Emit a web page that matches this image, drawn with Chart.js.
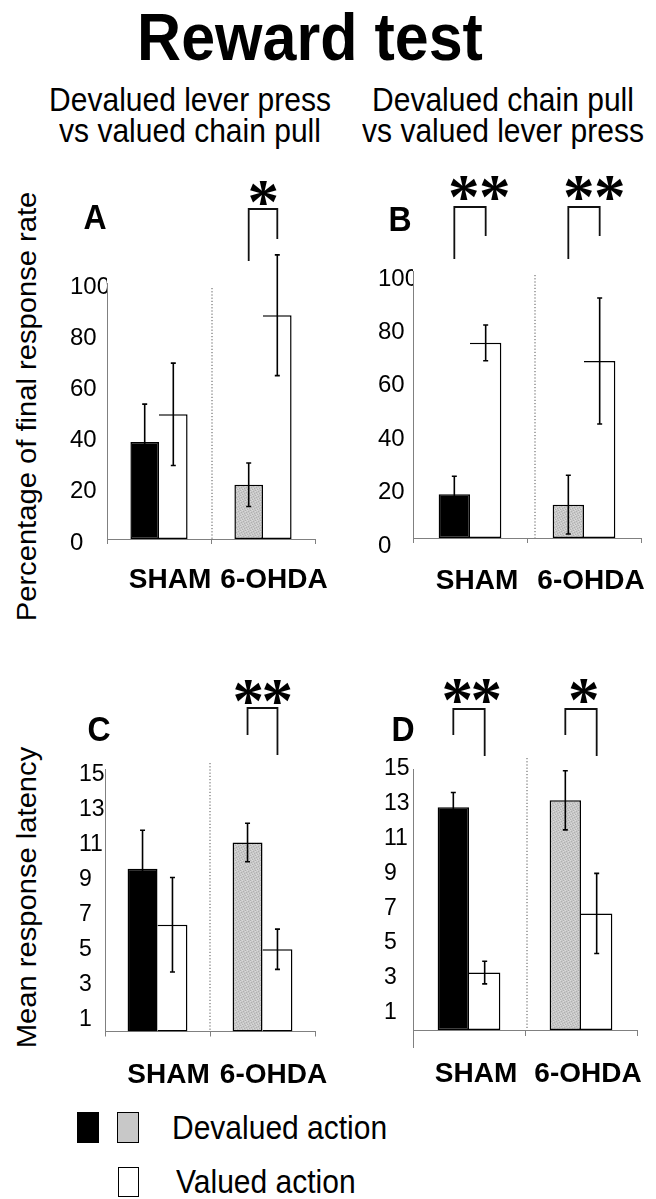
<!DOCTYPE html>
<html>
<head>
<meta charset="utf-8">
<script src="https://cdn.jsdelivr.net/npm/chart.js@4.4.0/dist/chart.umd.min.js"></script>
<style>
html,body{margin:0;padding:0;background:#fff;}
body{width:656px;height:1199px;position:relative;overflow:hidden;font-family:"Liberation Sans",Arial,Helvetica,sans-serif;}
.t{position:absolute;white-space:nowrap;color:#000;line-height:1;}
canvas{position:absolute;}
.box{position:absolute;box-sizing:border-box;}
</style>
</head>
<body>
<canvas id="cA" width="275" height="450" style="left:60px;top:170px"></canvas>
<canvas id="cB" width="288" height="450" style="left:368px;top:170px"></canvas>
<canvas id="cC" width="275" height="440" style="left:60px;top:660px"></canvas>
<canvas id="cD" width="288" height="440" style="left:368px;top:660px"></canvas>
<div class="box" style="left:77px;top:1112px;width:22px;height:31px;background:#000"></div>
<div class="box" id="lgGray" style="left:117px;top:1112px;width:22px;height:31px;background:#c8c8c8;border:1.5px solid #000"></div>
<div class="box" style="left:118px;top:1167px;width:21px;height:30px;background:#fff;border:1.5px solid #000"></div>
<script>
// ---------------- data ----------------
const groups = ['SHAM', '6-OHDA'];
const seriesNames = ['Devalued action', 'Valued action'];
const pctTicks = [0, 20, 40, 60, 80, 100];
const latencyTicks = [1, 3, 5, 7, 9, 11, 13, 15];

// A: devalued lever press vs valued chain pull (% of final response rate)
const rateA_devalued = [37.9, 21.2];
const rateA_devaluedErr = [14.8, 8.5];
const rateA_valued = [48.7, 87.4];
const rateA_valuedErr = [20.0, 23.6];
const sigA = ['', '*'];

// B: devalued chain pull vs valued lever press (% of final response rate)
const rateB_devalued = [16.4, 12.5];
const rateB_devaluedErr = [6.7, 11.0];
const rateB_valued = [73.1, 66.3];
const rateB_valuedErr = [6.7, 23.6];
const sigB = ['**', '**'];

// C: mean response latency
const latC_devalued = [9.3, 10.8];
const latC_devaluedErr = [2.2, 1.1];
const latC_valued = [6.1, 4.7];
const latC_valuedErr = [2.7, 1.15];
const sigC = ['', '**'];

// D: mean response latency
const latD_devalued = [12.8, 13.2];
const latD_devaluedErr = [0.85, 1.7];
const latD_valued = [3.3, 6.7];
const latD_valuedErr = [0.65, 2.3];
const sigD = ['**', '*'];

// ---------------- styling ----------------
const FONT = '"Liberation Sans", Arial, Helvetica, sans-serif';
const STARFONT = '"Liberation Serif", "Times New Roman", serif';
const AXIS = '#808080';

function makeGray(ctx) {
  const c = document.createElement('canvas'); c.width = 5; c.height = 5;
  const g = c.getContext('2d');
  g.fillStyle = '#c8c8c8'; g.fillRect(0, 0, 5, 5);
  g.fillStyle = '#b0b0b0'; [[0,0],[3,1],[1,2],[4,3],[2,4]].forEach(([x,y]) => g.fillRect(x, y, 1, 1));
  g.fillStyle = '#dadada'; [[2,0],[0,1],[3,3],[1,4]].forEach(([x,y]) => g.fillRect(x, y, 1, 1));
  return ctx.createPattern(c, 'repeat');
}

function drawStar(ctx, cx, cy, h) {
  ctx.font = 'bold 100px ' + STARFONT;
  let m = ctx.measureText('*');
  const gh = m.actualBoundingBoxAscent + m.actualBoundingBoxDescent;
  const size = 100 * h / gh;
  ctx.font = 'bold ' + size + 'px ' + STARFONT;
  m = ctx.measureText('*');
  ctx.textAlign = 'left'; ctx.textBaseline = 'alphabetic';
  const x = cx - (m.actualBoundingBoxRight - m.actualBoundingBoxLeft) / 2;
  const y = cy - (m.actualBoundingBoxDescent - m.actualBoundingBoxAscent) / 2;
  ctx.fillStyle = '#000';
  ctx.fillText('*', x, y);
}

function decoPlugin(p) {
  return {
    id: 'deco',
    afterDatasetsDraw(chart) {
      const ctx = chart.ctx, xs = chart.scales.x, ys = chart.scales.y, area = chart.chartArea;
      ctx.save();
      // dotted separator between groups
      const bx = (xs.getPixelForValue(0) + xs.getPixelForValue(1)) / 2 + p.sepDx;
      ctx.strokeStyle = '#555'; ctx.lineWidth = 1; ctx.setLineDash([1.2, 2]);
      ctx.beginPath(); ctx.moveTo(bx, area.top + p.sepTop); ctx.lineTo(bx, ys.getPixelForValue(0)); ctx.stroke();
      ctx.setLineDash([]);
      // error bars
      ctx.strokeStyle = '#000'; ctx.lineWidth = 1.6;
      [[p.dev, p.devErr], [p.val, p.valErr]].forEach(([vals, errs], d) => {
        chart.getDatasetMeta(d).data.forEach((bar, i) => {
          const x = bar.x;
          const y1 = ys.getPixelForValue(vals[i] + errs[i]);
          const y2 = ys.getPixelForValue(vals[i] - errs[i]);
          ctx.beginPath();
          ctx.moveTo(x, y1); ctx.lineTo(x, y2);
          ctx.moveTo(x - 2.5, y1); ctx.lineTo(x + 2.5, y1);
          ctx.moveTo(x - 2.5, y2); ctx.lineTo(x + 2.5, y2);
          ctx.stroke();
        });
      });
      // significance brackets
      ctx.lineWidth = 1.8; ctx.strokeStyle = '#111';
      p.sig.forEach((s, i) => {
        if (!s) return;
        const xl = chart.getDatasetMeta(0).data[i].x;
        const xr = chart.getDatasetMeta(1).data[i].x;
        const yt = area.top + p.br[0];
        ctx.beginPath();
        ctx.moveTo(xl, area.top + p.br[1]); ctx.lineTo(xl, yt); ctx.lineTo(xr, yt); ctx.lineTo(xr, area.top + p.br[2]);
        ctx.stroke();
        const n = s.length, cx = (xl + xr) / 2 + p.starDx[i];
        for (let k = 0; k < n; k++) drawStar(ctx, cx + (k - (n - 1) / 2) * p.starGap, area.top + p.starY, 24);
      });
      ctx.restore();
    }
  };
}

function makePanel(id, p) {
  const canvas = document.getElementById(id);
  const ctx = canvas.getContext('2d');
  const gray = makeGray(ctx);
  const xScale = {
    type: 'category',
    position: p.xPos || 'bottom',
    offset: true,
    grid: { display: true, drawOnChartArea: false, drawTicks: true, tickLength: 5, color: AXIS, lineWidth: 1, offset: true },
    border: { display: true, color: AXIS, width: 1 },
    ticks: { font: { family: FONT, size: 28, weight: 'bold' }, color: '#000', padding: p.xPad, labelOffset: p.xLabelOffset, maxRotation: 0, minRotation: 0, autoSkip: false },
    afterFit(s) { s.paddingLeft = 0; s.paddingRight = 0; if (!p.xPos) s.height = p.xHeight; }
  };
  return new Chart(canvas, {
    type: 'bar',
    data: {
      labels: groups,
      datasets: [
        { label: seriesNames[0], data: p.dev, backgroundColor: ['#000000', gray], borderColor: '#000', borderWidth: 1.5, borderSkipped: false, barPercentage: 1, categoryPercentage: p.catPct },
        { label: seriesNames[1], data: p.val, backgroundColor: '#ffffff', borderColor: '#000', borderWidth: { top: 1.5, right: 1.5, bottom: 1.5, left: 0 }, borderSkipped: false, barPercentage: 1, categoryPercentage: p.catPct }
      ]
    },
    options: {
      responsive: false, animation: false, devicePixelRatio: 1,
      layout: { padding: p.pad },
      plugins: { legend: { display: false }, tooltip: { enabled: false }, title: { display: false } },
      scales: {
        x: xScale,
        y: {
          type: 'linear', min: p.min, max: p.max,
          afterBuildTicks(s) { s.ticks = p.ticks.map(v => ({ value: v })); },
          grid: { display: false },
          border: { display: true, color: AXIS, width: 1 },
          ticks: { font: { family: FONT, size: p.yFont }, color: '#000', crossAlign: 'far', padding: 0, labelOffset: p.yLabelOffset },
          afterFit(s) { s.width = p.yWidth; s.paddingTop = 0; s.paddingBottom = 0; }
        }
      }
    },
    plugins: [decoPlugin(p)]
  });
}

makePanel('cA', {
  dev: rateA_devalued, devErr: rateA_devaluedErr, val: rateA_valued, valErr: rateA_valuedErr, sig: sigA,
  min: 0, max: 100, ticks: pctTicks, yFont: 24, yLabelOffset: 4, yWidth: 37,
  pad: { left: 10, top: 113, right: 20, bottom: 0 }, xHeight: 81, xPad: 19, xLabelOffset: 11, catPct: 0.55,
  sepDx: 1, sepTop: 5, br: [-74, -22, -44], starY: -90, starDx: [0, 0], starGap: 31
});
makePanel('cB', {
  dev: rateB_devalued, devErr: rateB_devaluedErr, val: rateB_valued, valErr: rateB_valuedErr, sig: sigB,
  min: 0, max: 100, ticks: pctTicks, yFont: 24, yLabelOffset: 8, yWidth: 35,
  pad: { left: 10, top: 101, right: 15, bottom: 0 }, xHeight: 82, xPad: 21, xLabelOffset: 7, catPct: 0.55,
  sepDx: 8, sepTop: 4, br: [-64, -12, -35], starY: -83, starDx: [9, 10], starGap: 31
});
makePanel('cC', {
  dev: latC_devalued, devErr: latC_devaluedErr, val: latC_valued, valErr: latC_valuedErr, sig: sigC,
  min: 0, max: 15, ticks: latencyTicks, yFont: 23, yLabelOffset: 6, yWidth: 26,
  pad: { left: 19, top: 109, right: 20, bottom: 0 }, xHeight: 68.5, xPad: 22, xLabelOffset: 11, catPct: 0.57,
  sepDx: 0, sepTop: -6, br: [-61, -34, -14], starY: -77, starDx: [0, 0], starGap: 29
});
makePanel('cD', {
  dev: latD_devalued, devErr: latD_devaluedErr, val: latD_valued, valErr: latD_valuedErr, sig: sigD,
  min: -1, max: 15, ticks: latencyTicks, yFont: 23, yLabelOffset: 0, yWidth: 29,
  pad: { left: 16, top: 109, right: 19, bottom: 52.6 }, xPos: { y: 0 }, xPad: 22, xLabelOffset: 7, catPct: 0.56,
  sepDx: 2, sepTop: -11, br: [-60, -34, -13], starY: -78, starDx: [2.5, 2.5], starGap: 29
});

// ---------------- text ----------------
const mctx = document.createElement('canvas').getContext('2d');
function addText(str, o) {
  const el = document.createElement('div');
  el.className = 't'; el.textContent = str;
  const weight = o.weight || 'normal';
  el.style.fontSize = o.size + 'px'; el.style.fontWeight = weight;
  mctx.font = weight + ' ' + o.size + 'px ' + FONT;
  const w = mctx.measureText(str).width;
  const sx = o.sx || 1, sy = o.sy || 1;
  const baseline = o.cy + 0.358 * o.size * sy;
  const top = baseline - 0.8465 * o.size;
  const left = (o.cx !== undefined) ? o.cx - w / 2 : o.left;
  el.style.left = left + 'px'; el.style.top = top + 'px';
  el.style.transformOrigin = ((o.cx !== undefined) ? w / 2 : 0) + 'px ' + (0.8465 * o.size) + 'px';
  el.style.transform = 'scale(' + sx + ',' + sy + ')';
  document.body.appendChild(el);
}
function addVText(str, o) {
  const el = document.createElement('div');
  el.className = 't'; el.textContent = str;
  el.style.fontSize = o.size + 'px';
  mctx.font = 'normal ' + o.size + 'px ' + FONT;
  const w = mctx.measureText(str).width;
  el.style.left = (o.cx - w / 2) + 'px'; el.style.top = (o.cy - o.size / 2) + 'px';
  el.style.width = w + 'px'; el.style.height = o.size + 'px';
  el.style.transformOrigin = '50% 50%';
  el.style.transform = 'rotate(-90deg) scale(' + (o.sx || 1) + ',1)';
  document.body.appendChild(el);
}

addText('Reward test', { cx: 310, cy: 36.5, size: 61, weight: 'bold', sy: 1.1 });
addText('Devalued lever press', { cx: 190, cy: 100, size: 30, sy: 1.1 });
addText('vs valued chain pull', { cx: 190, cy: 131, size: 30, sy: 1.1 });
addText('Devalued chain pull', { cx: 503, cy: 100, size: 30, sy: 1.1 });
addText('vs valued lever press', { cx: 503, cy: 131, size: 30, sy: 1.1 });
addText('A', { cx: 95, cy: 216, size: 32, weight: 'bold', sy: 1.1 });
addText('B', { cx: 400, cy: 218, size: 32, weight: 'bold', sy: 1.1 });
addText('C', { cx: 99, cy: 728, size: 32, weight: 'bold', sy: 1.1 });
addText('D', { cx: 403, cy: 728, size: 32, weight: 'bold', sy: 1.1 });
addVText('Percentage of final response rate', { cx: 28, cy: 406, size: 27, sx: 1.08 });
addVText('Mean response latency', { cx: 28, cy: 897, size: 27, sx: 1.08 });
addText(seriesNames[0], { left: 172, cy: 1128, size: 30, sy: 1.1 });
addText(seriesNames[1], { left: 176, cy: 1182, size: 30, sy: 1.1 });
</script>
</body>
</html>
